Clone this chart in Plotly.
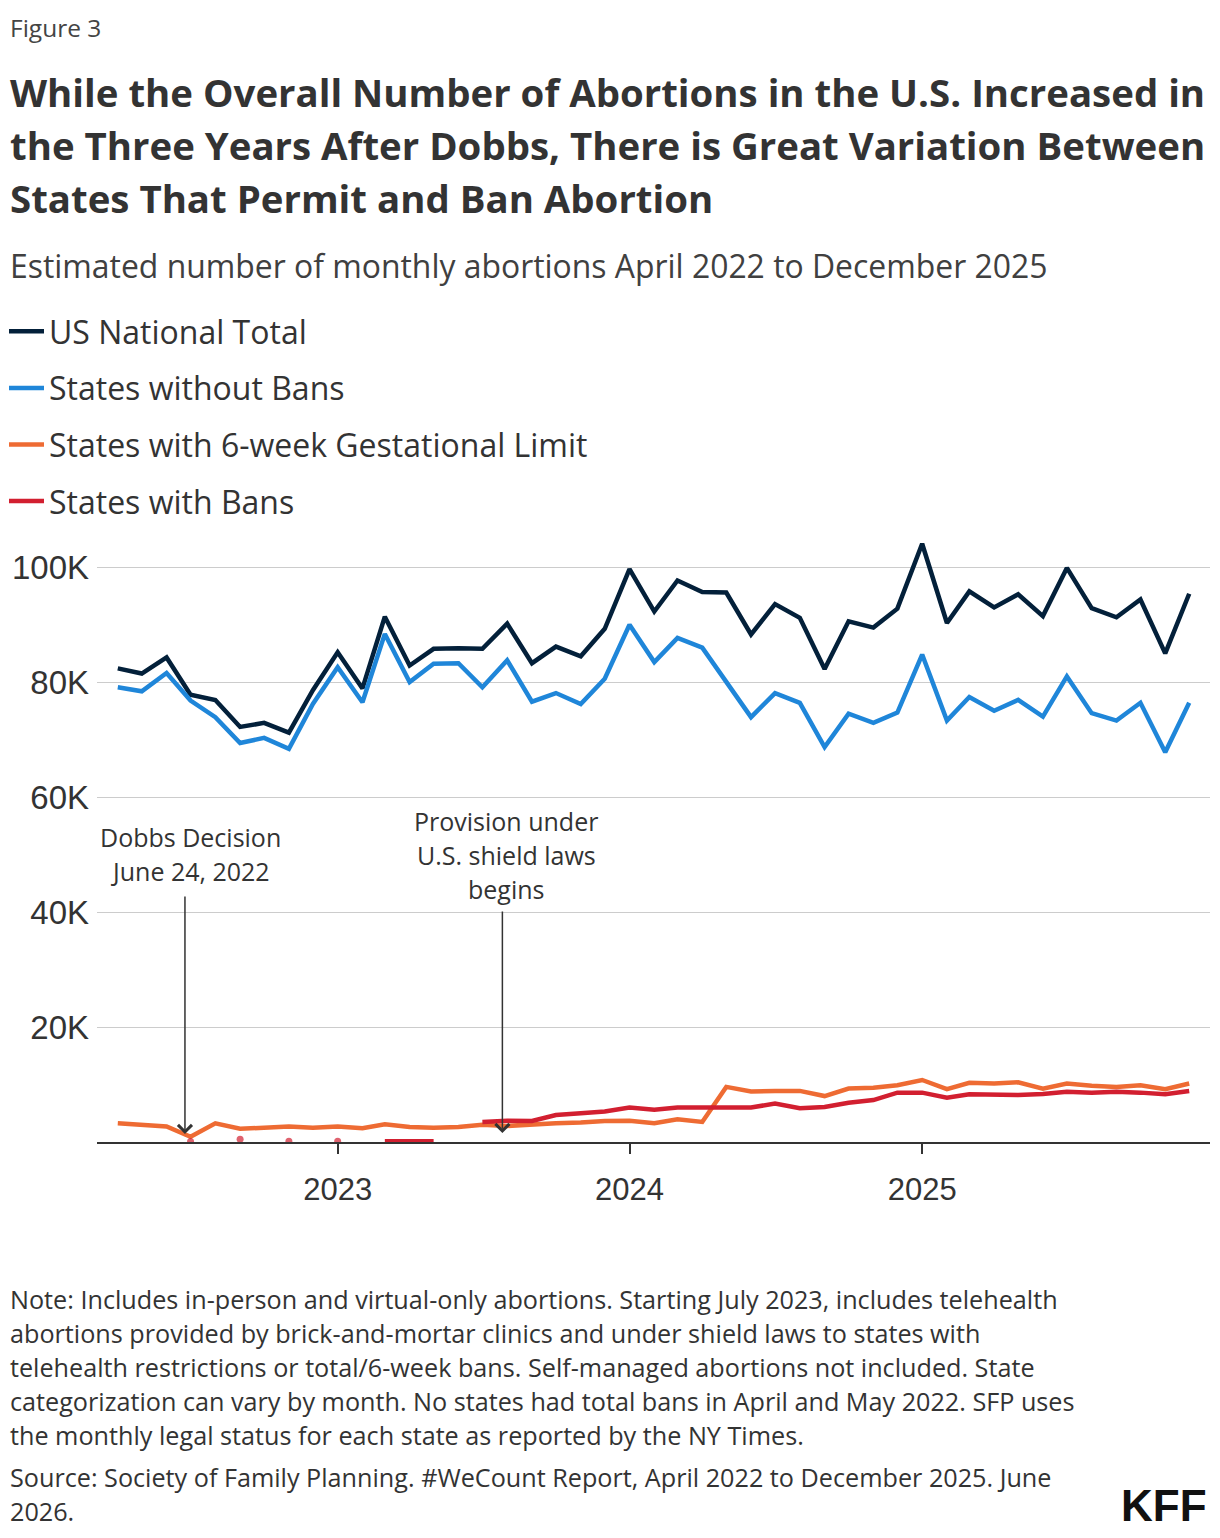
import plotly.graph_objects as go

# ---------------- data (thousands of abortions per month) ----------------
months = [
    "2022-04-01", "2022-05-01", "2022-06-01", "2022-07-01", "2022-08-01", "2022-09-01",
    "2022-10-01", "2022-11-01", "2022-12-01",
    "2023-01-01", "2023-02-01", "2023-03-01", "2023-04-01", "2023-05-01", "2023-06-01",
    "2023-07-01", "2023-08-01", "2023-09-01", "2023-10-01", "2023-11-01", "2023-12-01",
    "2024-01-01", "2024-02-01", "2024-03-01", "2024-04-01", "2024-05-01", "2024-06-01",
    "2024-07-01", "2024-08-01", "2024-09-01", "2024-10-01", "2024-11-01", "2024-12-01",
    "2025-01-01", "2025-02-01", "2025-03-01", "2025-04-01", "2025-05-01", "2025-06-01",
    "2025-07-01", "2025-08-01", "2025-09-01", "2025-10-01", "2025-11-01", "2025-12-01",
]

us_total = [
    82.5, 81.6, 84.4, 77.9, 77.0, 72.3, 73.0, 71.3, 78.7,
    85.3, 79.0, 91.5, 83.0, 85.9, 86.0, 85.9, 90.3, 83.4, 86.3, 84.6, 89.4,
    99.8, 92.4, 97.8, 95.8, 95.7, 88.4, 93.7, 91.3, 82.4, 90.7, 89.6, 92.9,
    104.2, 90.4, 95.9, 93.1, 95.4, 91.6, 100.0, 93.0, 91.4, 94.5, 85.1, 95.5,
]

without_bans = [
    79.2, 78.5, 81.7, 76.9, 74.0, 69.5, 70.4, 68.5, 76.3,
    82.7, 76.6, 88.5, 80.1, 83.3, 83.4, 79.2, 83.9, 76.7, 78.2, 76.3, 80.7,
    90.1, 83.6, 87.8, 86.1, 80.1, 74.0, 78.2, 76.5, 68.8, 74.6, 73.0, 74.8,
    84.9, 73.4, 77.5, 75.1, 77.0, 74.1, 81.1, 74.7, 73.4, 76.5, 67.9, 76.5,
]

six_week = [
    3.25, 3.0, 2.7, 0.9, 3.25, 2.3, 2.4, 2.7, 2.5,
    2.7, 2.4, 3.1, 2.6, 2.5, 2.6, 3.0, 2.8, 3.1, 3.25, 3.4, 3.65,
    3.7, 3.25, 3.95, 3.5, 9.6, 8.8, 8.9, 8.9, 8.0, 9.3, 9.45, 9.9,
    10.8, 9.2, 10.3, 10.2, 10.4, 9.3, 10.2, 9.8, 9.6, 9.9, 9.2, 10.2,
]

with_bans = [
    None, None, None, 0.1, None, 0.5, None, 0.15, None,
    0.15, None, 0.15, 0.15, 0.15, None, 3.5, 3.7, 3.65, 4.7, 5.0, 5.3,
    6.0, 5.6, 6.0, 6.0, 6.0, 6.0, 6.7, 5.9, 6.1, 6.85, 7.3, 8.6,
    8.6, 7.7, 8.3, 8.2, 8.2, 8.35, 8.75, 8.6, 8.75, 8.6, 8.3, 8.9,
]

series_names = ["US National Total", "States without Bans",
                "States with 6-week Gestational Limit", "States with Bans"]
series_colors = ["#03203a", "#1f86d9", "#ee6b33", "#d21f30"]

y_tick_vals = [20, 40, 60, 80, 100]
y_tick_text = ["20K", "40K", "60K", "80K", "100K"]
x_tick_vals = ["2023-01-01", "2024-01-01", "2025-01-01"]
x_tick_text = ["2023", "2024", "2025"]

events = [
    {"date": "2022-06-24", "tail_px": 895, "head_px": 1134,
     "lines": ["Dobbs Decision", "June 24, 2022"], "text_x": 190, "text_y": [837, 871]},
    {"date": "2023-07-26", "tail_px": 910, "head_px": 1133,
     "lines": ["Provision under", "U.S. shield laws", "begins"], "text_x": 506,
     "text_y": [821, 855, 889]},
]

title_lines = [
    "While the Overall Number of Abortions in the U.S. Increased in",
    "the Three Years After Dobbs, There is Great Variation Between",
    "States That Permit and Ban Abortion",
]
subtitle = "Estimated number of monthly abortions April 2022 to December 2025"
note_lines = [
    "Note: Includes in-person and virtual-only abortions. Starting July 2023, includes telehealth",
    "abortions provided by brick-and-mortar clinics and under shield laws to states with",
    "telehealth restrictions or total/6-week bans. Self-managed abortions not included. State",
    "categorization can vary by month. No states had total bans in April and May 2022. SFP uses",
    "the monthly legal status for each state as reported by the NY Times.",
    "Source: Society of Family Planning. #WeCount Report, April 2022 to December 2025. June",
    "2026.",
]

# ---------------- layout geometry ----------------
W, H = 1220, 1538
PL, PR, PT, PB = 97, 1210, 530, 1142   # plot area in pixels
Y_MAX = 106.6

def px(x):
    return (x - PL) / (PR - PL)

def py(y):
    return (PB - y) / (PB - PT)

TEXT = "#333333"
BODY_FONT = "'Open Sans', 'Noto Sans', sans-serif"
TICK_FONT = "'Liberation Sans', Arial, sans-serif"

fig = go.Figure()

all_series = [us_total, without_bans, six_week, with_bans]
for name, color, vals in zip(series_names, series_colors, all_series):
    # show a dot only for isolated values (no neighbours to connect to)
    sizes = []
    for i, v in enumerate(vals):
        prev_none = i == 0 or vals[i - 1] is None
        next_none = i == len(vals) - 1 or vals[i + 1] is None
        sizes.append(7 if (v is not None and prev_none and next_none) else 0)
    fig.add_trace(go.Scatter(
        x=months, y=vals, name=name, legendgroup=name,
        mode="lines+markers",
        line=dict(color=color, width=4.5),
        marker=dict(color=color, size=sizes, line=dict(width=0)),
        connectgaps=False,
    ))

annotations = []

def text_ann(text, x, y, size, color=TEXT, family=BODY_FONT, anchor="left"):
    annotations.append(dict(
        text=text, xref="paper", yref="paper", x=px(x), y=py(y),
        xanchor=anchor, yanchor="middle", showarrow=False,
        font=dict(size=size, color=color, family=family),
    ))

text_ann("Figure 3", 8, 27, 24.5, color="#444444")
for line, y in zip(title_lines, [92, 145, 198]):
    text_ann("<b>" + line + "</b>", 8, y, 38.4)
text_ann(subtitle, 8, 265, 31.9, color="#404040")

for ev in events:
    for line, y in zip(ev["lines"], ev["text_y"]):
        text_ann(line, ev["text_x"], y, 25, anchor="center")
    head_val = (PB - ev["head_px"]) / (PB - PT) * Y_MAX
    annotations.append(dict(
        x=ev["date"], y=head_val, xref="x", yref="y", text="",
        showarrow=True, axref="pixel", ayref="pixel", ax=0,
        ay=-(ev["head_px"] - ev["tail_px"]),
        arrowhead=4, arrowsize=1.8, arrowwidth=1.5, arrowcolor=TEXT,
        standoff=0,
    ))

for i, line in enumerate(note_lines[:5]):
    text_ann(line, 8, 1299 + 34 * i, 25.2)
text_ann(note_lines[5], 8, 1477, 25.2)
text_ann(note_lines[6], 8, 1511, 25.2)
text_ann("<b>KFF</b>", 1209, 1505, 44, color="#111111",
         family="'Liberation Sans Narrow', 'Liberation Sans', Arial, sans-serif", anchor="right")

fig.update_layout(
    width=W, height=H,
    margin=dict(l=PL, r=W - PR, t=PT, b=H - PB, pad=0, autoexpand=False),
    paper_bgcolor="white", plot_bgcolor="white",
    font=dict(family=BODY_FONT, color=TEXT),
    showlegend=True,
    legend=dict(
        x=px(4), y=py(304), xanchor="left", yanchor="top",
        font=dict(size=32, color=TEXT, family=BODY_FONT),
        tracegroupgap=12, itemwidth=35, bgcolor="rgba(0,0,0,0)",
        traceorder="grouped",
    ),
    xaxis=dict(
        type="date", range=["2022-03-06", "2025-12-27"],
        tickvals=x_tick_vals, ticktext=x_tick_text,
        showline=True, linecolor=TEXT, linewidth=2,
        ticks="outside", ticklen=10, tickwidth=2, tickcolor=TEXT,
        showgrid=False, zeroline=False, automargin=False,
        tickfont=dict(size=31, color=TEXT, family=TICK_FONT),
        ticklabelstandoff=9,
    ),
    yaxis=dict(
        range=[0, Y_MAX], tickvals=y_tick_vals, ticktext=y_tick_text,
        showgrid=True, gridcolor="#cccccc", gridwidth=1,
        showline=False, zeroline=False, ticks="", automargin=False,
        tickfont=dict(size=33, color=TEXT, family=TICK_FONT),
        ticklabelstandoff=7,
    ),
    annotations=annotations,
    hovermode=False,
)

fig.write_html("out.html")
